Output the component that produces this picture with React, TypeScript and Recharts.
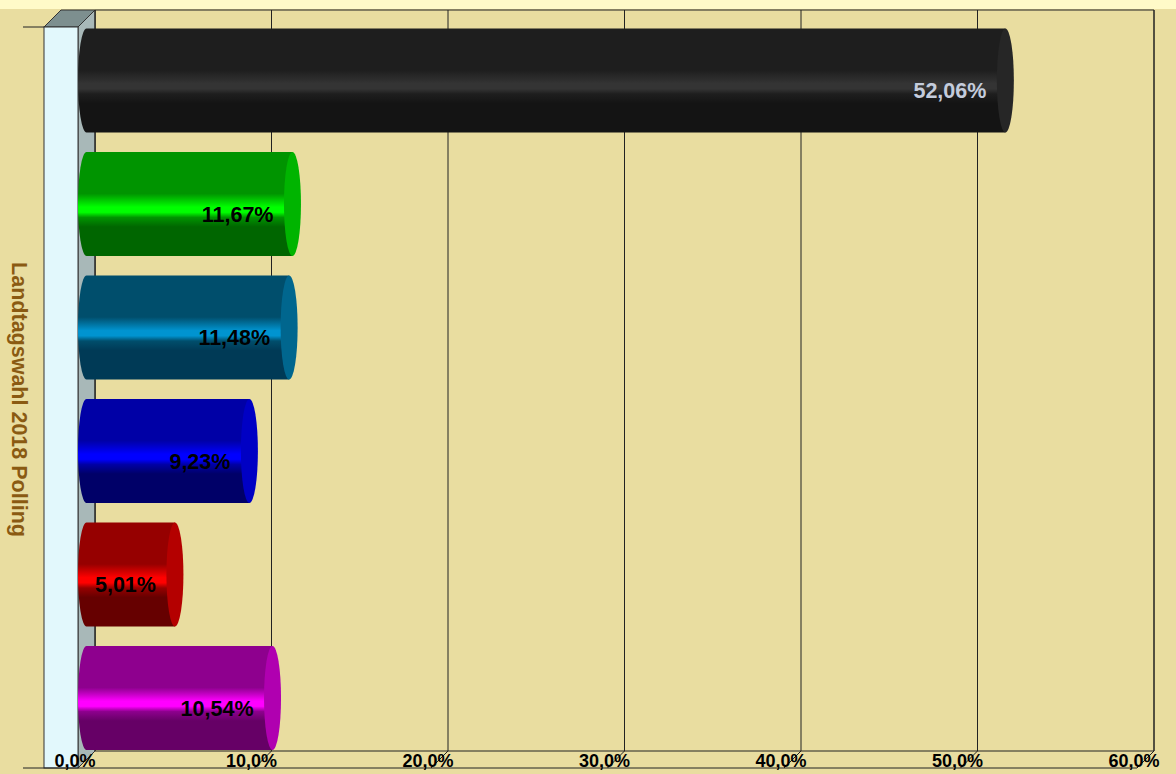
import { Bar, BarChart, CartesianGrid, LabelList, ReferenceArea, XAxis, YAxis } from "recharts"

// Landtagswahl 2018 Polling, share of vote in %
const parties = ["P1", "P2", "P3", "P4", "P5", "P6"]
const shares = [52.06, 11.67, 11.48, 9.23, 5.01, 10.54]
const xTicks = [0, 10, 20, 30, 40, 50, 60]

const data = parties.map((name, i) => ({ name, value: shares[i] }))

// base / highlight / shadow / end cap
const palette = [
  { base: "#1e1e1e", hi: "#343434", dark: "#141414", cap: "#262626", label: "#c4ccdc" },
  { base: "#009400", hi: "#00ff00", dark: "#006600", cap: "#00b400", label: "#000" },
  { base: "#004e6c", hi: "#0094d0", dark: "#003a56", cap: "#00668e", label: "#000" },
  { base: "#0000a6", hi: "#0000ff", dark: "#000068", cap: "#0000c4", label: "#000" },
  { base: "#960000", hi: "#ff0000", dark: "#660000", cap: "#b40000", label: "#000" },
  { base: "#8e008e", hi: "#ff00ff", dark: "#660066", cap: "#b000b0", label: "#000" },
]

const D = 8.5 // half of the 3d depth
const fmt = (v: number, d: number) => v.toFixed(d).replace(".", ",") + "%"

function Cylinder(props: any) {
  const { x, y, width, height, index } = props
  const c = palette[index]
  const rx = 8.5
  const id = "cyl" + index
  const r = x + width
  return (
    <g>
      <defs>
        <linearGradient id={id} x1="0" y1="0" x2="0" y2="1">
          <stop offset="0" stopColor={c.base} />
          <stop offset="0.4" stopColor={c.base} />
          <stop offset="0.53" stopColor={c.hi} />
          <stop offset="0.58" stopColor={c.hi} />
          <stop offset="0.63" stopColor={c.base} />
          <stop offset="0.72" stopColor={c.dark} />
          <stop offset="1" stopColor={c.dark} />
        </linearGradient>
      </defs>
      <path
        d={`M${x},${y} L${r},${y} L${r},${y + height} L${x},${y + height} A${rx},${height / 2} 0 0 1 ${x},${y} Z`}
        fill={`url(#${id})`}
      />
      <ellipse cx={r} cy={y + height / 2} rx={rx} ry={height / 2} fill={c.cap} />
    </g>
  )
}

function BarValue(props: any) {
  const { x, y, width, height, value, index } = props
  return (
    <text
      x={x + width - 19}
      y={y + height * 0.67}
      textAnchor="end"
      fontFamily="'Liberation Sans', Arial, sans-serif"
      fontWeight="bold"
      fontSize={21.5}
      fill={palette[index].label}
    >
      {fmt(value, 2)}
    </text>
  )
}

function Frame(props: any) {
  const { x, y, width, height } = props
  const bx = x + D
  const by1 = y - D
  const by2 = y + height - D
  const fx = x - D
  const fy1 = y + D
  const fy2 = y + height + D
  const right = x + width
  return (
    <g>
      <polygon points={`${fx - 34},${fy1} ${bx - 34},${by1} ${bx},${by1} ${fx},${fy1}`} fill="#7d8f8f" stroke="#333" strokeWidth={1} />
      <polygon points={`${fx},${fy1} ${bx},${by1} ${bx},${by2} ${fx},${fy2}`} fill="#a8b8b8" stroke="#333" strokeWidth={1} />
      <rect x={fx - 34} y={fy1} width={34} height={fy2 - fy1} fill="#e2f8fc" stroke="#333" strokeWidth={1} />
      <path d={`M${bx},${by2} L${bx},${by1} L${right + D},${by1} L${right + D},${by2} Z`} fill="none" stroke="#222" />
      <line x1={fx - 55} y1={fy2} x2={right - D} y2={fy2} stroke="#222" />
      <line x1={fx - 55} y1={fy1} x2={fx - 34} y2={fy1} stroke="#222" />
      <text
        x={fx - 59}
        y={(fy1 + fy2) / 2 + 2}
        transform={`rotate(90 ${fx - 59} ${(fy1 + fy2) / 2 + 2})`}
        textAnchor="middle"
        dominantBaseline="central"
        fontFamily="'Liberation Sans', Arial, sans-serif"
        fontWeight="bold"
        fontSize={21.5}
        fill="#8a5a12"
      >
        Landtagswahl 2018 Polling
      </text>
    </g>
  )
}

function GridLine(props: any) {
  const { x1, y1, y2 } = props
  return (
    <g>
      <line x1={x1 + D} y1={y1 - D} x2={x1 + D} y2={y2 - D} stroke="#222" />
      <line x1={x1 + D} y1={y2 - D} x2={x1 - D} y2={y2 + D} stroke="#222" />
    </g>
  )
}

function Tick(props: any) {
  const { x, y, payload } = props
  return (
    <text
      x={x - D - 3}
      y={y + 7}
      textAnchor="middle"
      fontFamily="'Liberation Sans', Arial, sans-serif"
      fontWeight="bold"
      fontSize={18}
      fill="#000"
    >
      {fmt(payload.value, 1)}
    </text>
  )
}

export default function App() {
  return (
    <div
      style={{
        position: "absolute",
        left: 0,
        top: 0,
        width: 1176,
        height: 774,
        background: "linear-gradient(to bottom, #fffac8 0px, #fffac8 9px, #e9dda0 9px)",
      }}
    >
      <BarChart
        width={1176}
        height={774}
        data={data}
        layout="vertical"
        margin={{ top: 18.5, right: 30.5, left: 86.5, bottom: 0 }}
      >
        <CartesianGrid horizontal={false} vertical={GridLine as any} />
        <ReferenceArea x1={0} x2={60} shape={Frame as any} zIndex={-50} />
        <XAxis
          type="number"
          domain={[0, 60]}
          ticks={xTicks}
          height={14.5}
          axisLine={false}
          tickLine={false}
          tickSize={0}
          tickMargin={0}
          tick={Tick}
          interval={0}
        />
        <YAxis type="category" dataKey="name" hide />
        <Bar dataKey="value" barSize={104} shape={Cylinder} isAnimationActive={false}>
          <LabelList dataKey="value" content={BarValue} />
        </Bar>
      </BarChart>
    </div>
  )
}
